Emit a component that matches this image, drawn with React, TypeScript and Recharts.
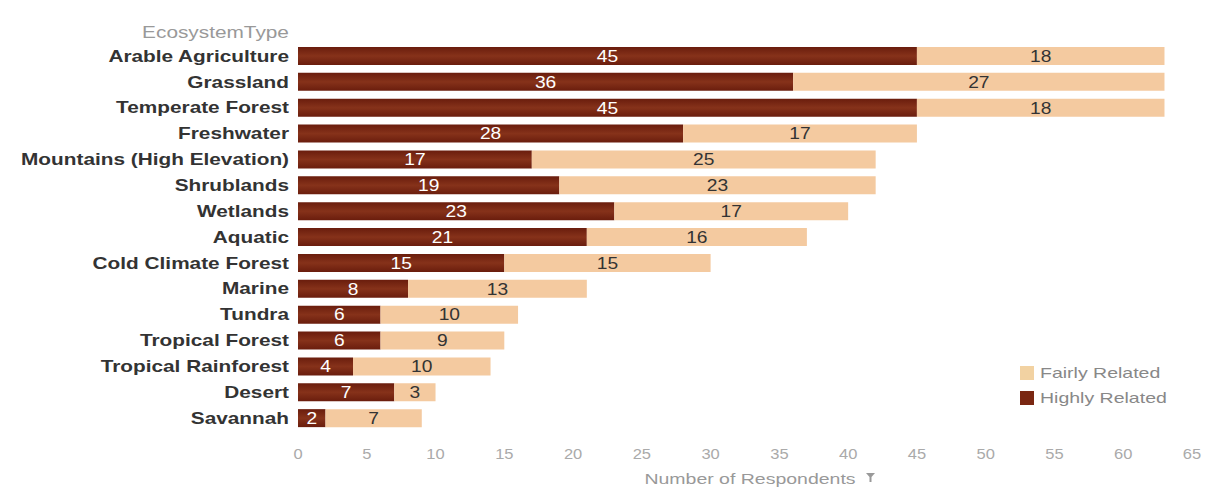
import React from 'react'
import { BarChart, Bar, XAxis, YAxis, LabelList } from 'recharts'

const ecosystems = [
  'Arable Agriculture',
  'Grassland',
  'Temperate Forest',
  'Freshwater',
  'Mountains (High Elevation)',
  'Shrublands',
  'Wetlands',
  'Aquatic',
  'Cold Climate Forest',
  'Marine',
  'Tundra',
  'Tropical Forest',
  'Tropical Rainforest',
  'Desert',
  'Savannah',
]
const highlyRelated = [45, 36, 45, 28, 17, 19, 23, 21, 15, 8, 6, 6, 4, 7, 2]
const fairlyRelated = [18, 27, 18, 17, 25, 23, 17, 16, 15, 13, 10, 9, 10, 3, 7]
const xTicks = [0, 5, 10, 15, 20, 25, 30, 35, 40, 45, 50, 55, 60, 65]

const DARK = '#7a2712'
const LIGHT = '#f4caa0'
const FONT = 'Arial, "Liberation Sans", sans-serif'
// the reference text is drawn a bit wide, so stretch it sideways
const SX = 1.3

const data = ecosystems.map((name, i) => ({
  name,
  highly: highlyRelated[i],
  fairly: fairlyRelated[i],
}))

const legendItems = [
  { label: 'Fairly Related', color: '#f2d2a2' },
  { label: 'Highly Related', color: DARK },
]

const CategoryTick = (props: any) => {
  const { x, y, payload } = props
  return (
    <g transform={`translate(${x},${y})`}>
      <text
        transform={`scale(${SX},1)`}
        textAnchor="end"
        dy="0.36em"
        fill="#333"
        fontSize={16}
        fontWeight="bold"
        fontFamily={FONT}
      >
        {payload.value}
      </text>
    </g>
  )
}

const NumberTick = (props: any) => {
  const { x, y, payload } = props
  return (
    <g transform={`translate(${x},${y})`}>
      <text transform="scale(1.1,1)" textAnchor="middle" dy="0.71em" fill="#aaa" fontSize={15} fontFamily={FONT}>
        {payload.value}
      </text>
    </g>
  )
}

const makeBarLabel = (color: string) => (props: any) => {
  const { x, y, width, height, value } = props
  const cx = x + width / 2
  const cy = y + height / 2
  return (
    <g transform={`translate(${cx},${cy})`}>
      <text transform="scale(1.2,1)" textAnchor="middle" dy="0.36em" fill={color} fontSize={16} fontFamily={FONT}>
        {value}
      </text>
    </g>
  )
}

const AxisTitle = (props: any) => {
  const vb = props.viewBox
  const cx = vb.x + vb.width / 2 + 5
  const by = vb.y + vb.height + 3
  return (
    <g transform={`translate(${cx},${by})`}>
      <text transform={`scale(${SX},1)`} textAnchor="middle" fill="#999" fontSize={15} fontFamily={FONT}>
        Number of Respondents
      </text>
      <path d="M116,-11 h9 l-3.5,4 v5 h-2 v-5 z" fill="#999" />
    </g>
  )
}

export default function App() {
  return (
    <div style={{ position: 'absolute', left: 0, top: 0, width: 1215, height: 488, background: '#fff' }}>
      <div
        style={{
          position: 'absolute',
          right: 1215 - 289,
          top: 24,
          fontFamily: FONT,
          fontSize: 16,
          color: '#999',
          transform: `scaleX(${SX})`,
          transformOrigin: 'right center',
          whiteSpace: 'nowrap',
        }}
      >
        EcosystemType
      </div>
      <div
        style={{
          position: 'absolute',
          left: 1020,
          top: 360,
          fontFamily: FONT,
          fontSize: 15,
          color: '#888',
        }}
      >
        {legendItems.map((it) => (
          <div key={it.label} style={{ display: 'flex', alignItems: 'center', height: 25 }}>
            <span style={{ width: 14, height: 14, background: it.color, marginRight: 6, display: 'inline-block' }} />
            <span style={{ display: 'inline-block', transform: `scaleX(${SX})`, transformOrigin: 'left center', whiteSpace: 'nowrap' }}>
              {it.label}
            </span>
          </div>
        ))}
      </div>
      <BarChart
        width={1215}
        height={488}
        data={data}
        layout="vertical"
        margin={{ top: 43, right: 23, bottom: 7, left: 0 }}
        barCategoryGap={4}
        style={{ position: 'absolute', left: 0, top: 0 }}
      >
        <defs>
          <linearGradient id="darkGrad" x1="0" y1="0" x2="0" y2="1">
            <stop offset="0%" stopColor="#6a1d0d" />
            <stop offset="50%" stopColor="#86321a" />
            <stop offset="100%" stopColor="#6a1d0d" />
          </linearGradient>
        </defs>
        <XAxis
          type="number"
          domain={[0, 65]}
          ticks={xTicks}
          axisLine={false}
          tickLine={false}
          tickMargin={11}
          height={50}
          tick={<NumberTick />}
          label={{ content: AxisTitle }}
        />
        <YAxis
          type="category"
          dataKey="name"
          width={298}
          axisLine={false}
          tickLine={false}
          tickSize={0}
          tickMargin={9}
          interval={0}
          tick={<CategoryTick />}
        />
        <Bar dataKey="highly" name="Highly Related" stackId="a" fill="url(#darkGrad)" isAnimationActive={false}>
          <LabelList dataKey="highly" content={makeBarLabel('#fff')} />
        </Bar>
        <Bar dataKey="fairly" name="Fairly Related" stackId="a" fill={LIGHT} isAnimationActive={false}>
          <LabelList dataKey="fairly" content={makeBarLabel('#333')} />
        </Bar>
      </BarChart>
    </div>
  )
}
